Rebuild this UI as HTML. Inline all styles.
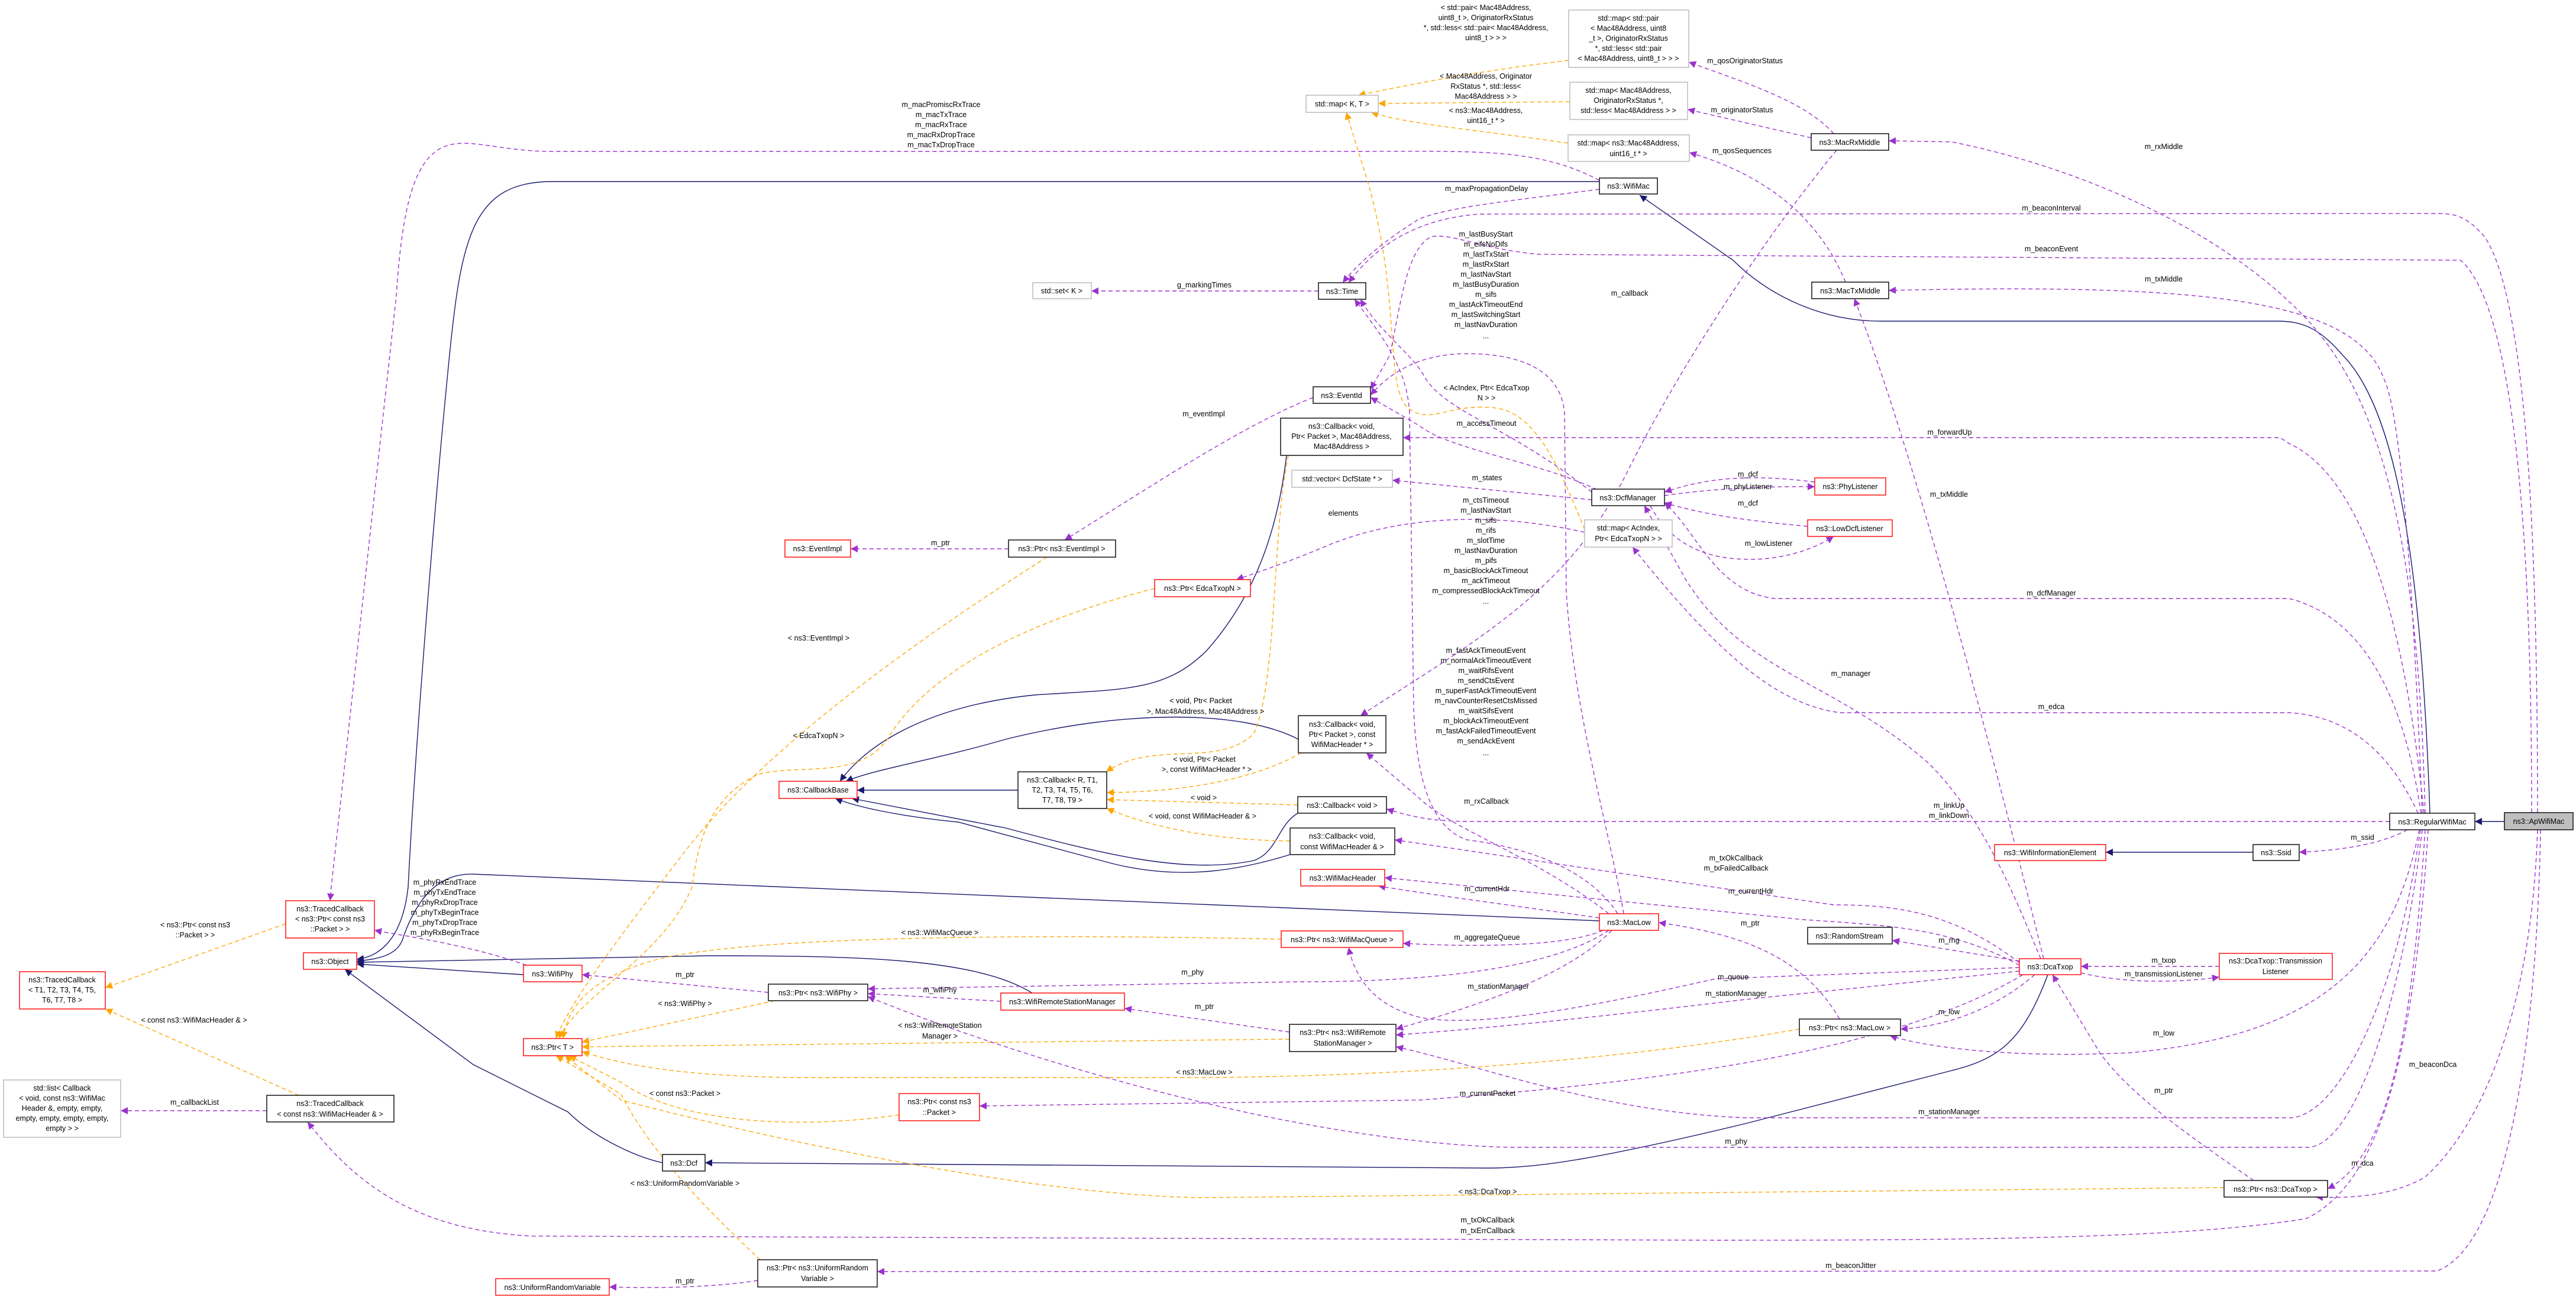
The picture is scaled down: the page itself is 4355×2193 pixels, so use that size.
<!DOCTYPE html>
<html><head><meta charset="utf-8"><style>
html,body{margin:0;padding:0;background:#fff;}
svg{display:block;font-family:"Liberation Sans",sans-serif;}
text{font-size:12.5px;fill:#000;text-anchor:middle;}
.r{fill:#fff;stroke:#ff2020;stroke-width:1.6;}
.k{fill:#fff;stroke:#202020;stroke-width:1.6;}
.g{fill:#fff;stroke:#c0c0c0;stroke-width:1.6;}
.n{fill:none;stroke:#191970;stroke-width:1.4;}
.p{fill:none;stroke:#9a32cd;stroke-width:1.4;stroke-dasharray:7,5;}
.o{fill:none;stroke:#ffa500;stroke-width:1.4;stroke-dasharray:7,5;}
</style></head><body>
<svg width="4355" height="2193" viewBox="0 0 4355 2193" xmlns="http://www.w3.org/2000/svg">
<defs>
<marker id="mp" viewBox="0 0 10 10" refX="10" refY="5" markerWidth="14" markerHeight="12" markerUnits="userSpaceOnUse" orient="auto"><path d="M0,0L10,5L0,10z" fill="#9a32cd"/></marker>
<marker id="mo" viewBox="0 0 10 10" refX="10" refY="5" markerWidth="14" markerHeight="12" markerUnits="userSpaceOnUse" orient="auto"><path d="M0,0L10,5L0,10z" fill="#ffa500"/></marker>
<marker id="mn" viewBox="0 0 10 10" refX="10" refY="5" markerWidth="14" markerHeight="12" markerUnits="userSpaceOnUse" orient="auto"><path d="M0,0L10,5L0,10z" fill="#191970"/></marker>
</defs>
<rect width="4355" height="2193" fill="#fff"/>

<!-- navy inheritance edges -->
<g marker-end="url(#mn)">
<path class="n" d="M4234,1389 L4184,1389"/>
<path class="n" d="M4108,1375 C4095,1000 4060,700 3960,600 C3920,553 3890,543 3850,543 L3180,543 C3080,543 2990,500 2930,440 L2772,330"/>
<path class="n" d="M3809,1441 L3560,1441"/>
<path class="n" d="M2704,307 L933,307 C800,307 780,400 760,600 C730,900 700,1300 690,1500 C680,1590 640,1618 603,1622"/>
<path class="n" d="M2704,1557 L800,1478 C720,1475 690,1560 680,1590 C670,1615 640,1622 603,1625"/>
<path class="n" d="M885,1648 L603,1630"/>
<path class="n" d="M1745,1679 C1650,1620 1450,1616 1200,1616 L603,1627"/>
<path class="n" d="M1120,1966 C1070,1955 1000,1920 960,1880 L800,1800 L583,1639"/>
<path class="n" d="M3462,1648 C3420,1760 3380,1790 3300,1810 L2950,1900 C2700,1960 2600,1975 2515,1975 L1192,1966"/>
<path class="n" d="M1721,1336 L1449,1336"/>
<path class="n" d="M2175,770 C2160,900 2120,1010 2040,1100 C1970,1170 1900,1165 1750,1175 C1600,1190 1480,1240 1420,1321"/>
<path class="n" d="M2195,1250 C2100,1200 1900,1200 1700,1250 C1580,1285 1480,1300 1430,1321"/>
<path class="n" d="M2194,1375 C2160,1395 2160,1440 2120,1455 C2000,1480 1850,1440 1700,1400 L1440,1350"/>
<path class="n" d="M2181,1445 C2100,1470 2000,1490 1880,1460 L1620,1390 C1520,1380 1450,1365 1412,1350"/>
</g>

<!-- orange template edges -->
<g marker-end="url(#mo)">
<path class="o" d="M2178,770 C2150,900 2160,1150 2120,1240 C2060,1300 1950,1250 1870,1305"/>
<path class="o" d="M2200,1273 C2100,1330 1950,1340 1871,1340"/>
<path class="o" d="M2194,1361 L1871,1352"/>
<path class="o" d="M2181,1422 C2050,1420 1950,1400 1871,1367"/>
<path class="o" d="M1770,942 C1600,1050 1300,1250 1150,1450 C1050,1580 960,1700 940,1756"/>
<path class="o" d="M1952,995 C1700,1060 1560,1150 1500,1250 C1450,1320 1350,1290 1280,1310 C1200,1350 1180,1420 1170,1500 C1120,1620 980,1680 945,1756"/>
<path class="o" d="M2166,1588 C1800,1580 1300,1580 1120,1620 C1000,1650 960,1700 952,1756"/>
<path class="o" d="M1310,1692 L984,1762"/>
<path class="o" d="M2180,1757 L984,1770"/>
<path class="o" d="M3042,1740 C2700,1800 2300,1822 2000,1822 L1350,1822 C1150,1820 1050,1800 984,1778"/>
<path class="o" d="M1520,1885 C1350,1910 1150,1900 1050,1830 L962,1785"/>
<path class="o" d="M1285,2130 C1200,2050 1100,1950 1050,1850 L940,1785"/>
<path class="o" d="M3760,2008 L2030,2025 C1700,2020 1200,1900 1050,1860 L955,1785"/>
<path class="o" d="M2652,102 C2500,120 2400,140 2296,161"/>
<path class="o" d="M2654,172 L2330,175"/>
<path class="o" d="M2651,242 C2500,220 2380,210 2318,190"/>
<path class="o" d="M2679,895 C2640,800 2600,700 2530,690 C2450,680 2420,720 2380,690 C2340,650 2370,500 2310,300 L2276,190"/>
<path class="o" d="M483,1562 L178,1670"/>
<path class="o" d="M505,1852 L178,1706"/>
</g>

<!-- purple member edges -->
<g marker-end="url(#mp)">
<path class="p" d="M2704,305 C2600,250 2500,256 2300,256 L933,256 C850,256 800,235 760,245 C700,260 680,350 670,500 L560,1500 L558,1523"/>
<path class="p" d="M2704,320 C2550,340 2450,350 2400,370 C2350,400 2300,440 2270,478"/>
<path class="p" d="M4290,1374 C4290,900 4270,500 4200,400 C4170,365 4150,361 4120,361 L2500,362 C2400,370 2330,410 2280,478"/>
<path class="p" d="M4280,1374 C4280,900 4250,520 4160,440 L2600,430 C2500,420 2460,395 2420,400 C2380,420 2370,500 2350,600 L2317,658"/>
<path class="p" d="M2220,672 C2100,720 1950,820 1800,913"/>
<path class="p" d="M1705,928 L1438,928"/>
<path class="p" d="M2229,492 L1845,492"/>
<path class="p" d="M2679,900 C2500,860 2350,880 2250,920 C2180,950 2120,970 2090,980"/>
<path class="p" d="M2691,845 L2354,812"/>
<path class="p" d="M2814,838 C2900,825 3000,822 3068,823"/>
<path class="p" d="M3068,815 C2950,800 2880,810 2814,832"/>
<path class="p" d="M3056,890 C2950,880 2880,870 2814,850"/>
<path class="p" d="M2790,855 C2830,930 2900,950 2980,945 C3040,940 3080,920 3100,907"/>
<path class="p" d="M3100,226 C3050,170 2950,140 2855,105"/>
<path class="p" d="M3062,233 L2853,185"/>
<path class="p" d="M3120,477 C3080,380 3000,300 2856,258"/>
<path class="p" d="M3105,254 C3000,380 2850,600 2750,800 C2650,1000 2500,1080 2300,1210"/>
<path class="p" d="M4100,1375 C4090,1000 4050,700 3900,540 C3750,380 3500,280 3300,240 L3193,238"/>
<path class="p" d="M4095,1375 C4080,1000 4060,700 4030,640 C3980,500 3700,480 3193,491"/>
<path class="p" d="M3455,1621 C3400,1400 3250,800 3135,505"/>
<path class="p" d="M4098,1375 C4060,1000 3980,800 3870,750 L3855,740 L2372,740"/>
<path class="p" d="M4093,1375 C4060,1150 3980,1040 3870,1012 L3000,1012 C2900,1000 2870,900 2814,850"/>
<path class="p" d="M4088,1375 C4030,1250 3950,1210 3870,1205 L3110,1205 C3000,1190 2900,1100 2760,925"/>
<path class="p" d="M3450,1621 C3400,1500 3350,1380 3260,1290 C3100,1150 2950,1140 2850,980 L2780,855"/>
<path class="p" d="M4040,1389 L2500,1389 C2430,1389 2400,1385 2344,1368"/>
<path class="p" d="M4070,1403 C4020,1430 3950,1438 3887,1441"/>
<path class="p" d="M4090,1403 C4050,1600 3950,1750 3600,1780 C3400,1790 3250,1770 3195,1751"/>
<path class="p" d="M4092,1403 C4050,1700 3950,1890 3870,1890 L2950,1890 C2700,1880 2500,1800 2360,1770"/>
<path class="p" d="M4095,1403 C4060,1700 3980,1940 3900,1940 L2550,1940 C2200,1930 1750,1800 1467,1685"/>
<path class="p" d="M4100,1403 C4080,1700 4050,1950 3935,2010"/>
<path class="p" d="M4105,1403 C4080,1800 4020,2000 3900,2060 C3700,2095 3300,2097 2900,2097 L900,2090 C700,2080 600,2000 520,1897"/>
<path class="p" d="M4290,1403 C4280,1700 4200,1900 4100,1990 C4050,2020 3980,2027 3915,2024"/>
<path class="p" d="M4295,1403 C4290,1700 4250,2100 4120,2149 L1483,2150"/>
<path class="p" d="M3752,1634 L3518,1634"/>
<path class="p" d="M3518,1645 C3600,1665 3700,1660 3752,1652"/>
<path class="p" d="M3414,1625 L3199,1590"/>
<path class="p" d="M3440,1648 C3380,1700 3300,1735 3213,1740"/>
<path class="p" d="M3810,1996 C3700,1920 3600,1850 3550,1780 L3470,1648"/>
<path class="p" d="M3110,1723 C3050,1620 2950,1580 2804,1560"/>
<path class="p" d="M3414,1628 C3300,1540 3200,1530 3100,1530 L2358,1420"/>
<path class="p" d="M3414,1632 C3300,1570 3200,1565 3050,1555 L2341,1484"/>
<path class="p" d="M3414,1636 L2900,1655 C2700,1700 2500,1740 2400,1720 C2320,1700 2290,1650 2280,1602"/>
<path class="p" d="M3414,1642 L2950,1690 C2700,1720 2500,1740 2360,1750"/>
<path class="p" d="M3420,1648 C3200,1780 2800,1830 2400,1860 L1656,1870"/>
<path class="p" d="M2720,1545 C2600,1450 2450,1400 2400,1350 L2310,1273"/>
<path class="p" d="M2704,1552 C2550,1530 2400,1510 2330,1498"/>
<path class="p" d="M2710,1573 C2650,1600 2500,1602 2372,1595"/>
<path class="p" d="M2720,1573 C2650,1620 2500,1660 2200,1660 L1467,1672"/>
<path class="p" d="M2725,1573 C2650,1650 2500,1700 2360,1740"/>
<path class="p" d="M2745,1545 C2720,1400 2660,1200 2648,1000 L2645,700 C2640,620 2560,598 2480,598 C2400,598 2350,630 2317,668"/>
<path class="p" d="M2735,1545 C2680,1460 2560,1430 2480,1420 C2420,1400 2395,1320 2390,1200 L2383,700 C2380,620 2330,560 2290,506"/>
<path class="p" d="M2700,828 C2600,780 2450,760 2400,720 L2317,672"/>
<path class="p" d="M2691,832 C2550,720 2450,700 2410,640 C2390,600 2330,560 2300,506"/>
<path class="p" d="M890,1632 C800,1600 700,1585 633,1573"/>
<path class="p" d="M1299,1678 L984,1648"/>
<path class="p" d="M1692,1693 L1467,1680"/>
<path class="p" d="M2180,1745 L1901,1705"/>
<path class="p" d="M1281,2165 C1200,2178 1100,2178 1030,2176"/>
<path class="p" d="M451,1878 L204,1878"/>
</g>

<!-- nodes -->
<g>
<rect x="4234" y="1374" width="116" height="29" fill="#bfbfbf" stroke="#202020" stroke-width="1.6"/><text x="4292" y="1393">ns3::ApWifiMac</text>
<rect class="k" x="4040" y="1375" width="144" height="28"/><text x="4112" y="1394">ns3::RegularWifiMac</text>
<rect class="k" x="3809" y="1428" width="78" height="27"/><text x="3848" y="1446">ns3::Ssid</text>
<rect class="r" x="3372" y="1428" width="188" height="27"/><text x="3466" y="1446">ns3::WifiInformationElement</text>
<rect class="r" x="3752" y="1612" width="191" height="44"/><text x="3847" y="1629">ns3::DcaTxop::Transmission</text><text x="3847" y="1647">Listener</text>
<rect class="r" x="3414" y="1621" width="104" height="27"/><text x="3466" y="1639">ns3::DcaTxop</text>
<rect class="k" x="3056" y="1568" width="143" height="28"/><text x="3127" y="1587">ns3::RandomStream</text>
<rect class="k" x="3042" y="1723" width="171" height="28"/><text x="3127" y="1742">ns3::Ptr&lt; ns3::MacLow &gt;</text>
<rect class="k" x="3760" y="1996" width="175" height="28"/><text x="3847" y="2015">ns3::Ptr&lt; ns3::DcaTxop &gt;</text>
<rect class="r" x="2704" y="1545" width="100" height="28"/><text x="2754" y="1564">ns3::MacLow</text>
<rect class="r" x="2199" y="1470" width="142" height="28"/><text x="2270" y="1489">ns3::WifiMacHeader</text>
<rect class="k" x="2181" y="1400" width="177" height="45"/><text x="2269" y="1418">ns3::Callback&lt; void,</text><text x="2269" y="1436">const WifiMacHeader &amp; &gt;</text>
<rect class="k" x="2194" y="1347" width="150" height="28"/><text x="2269" y="1366">ns3::Callback&lt; void &gt;</text>
<rect class="k" x="2195" y="1210" width="148" height="63"/><text x="2269" y="1229">ns3::Callback&lt; void,</text><text x="2269" y="1246">Ptr&lt; Packet &gt;, const</text><text x="2269" y="1263">WifiMacHeader * &gt;</text>
<rect class="k" x="1721" y="1305" width="150" height="62"/><text x="1796" y="1323">ns3::Callback&lt; R, T1,</text><text x="1796" y="1340">T2, T3, T4, T5, T6,</text><text x="1796" y="1357">T7, T8, T9 &gt;</text>
<rect class="r" x="1317" y="1321" width="132" height="29"/><text x="1383" y="1340">ns3::CallbackBase</text>
<rect class="r" x="1952" y="980" width="162" height="29"/><text x="2033" y="999">ns3::Ptr&lt; EdcaTxopN &gt;</text>
<rect class="k" x="1705" y="913" width="181" height="29"/><text x="1795" y="932">ns3::Ptr&lt; ns3::EventImpl &gt;</text>
<rect class="r" x="1327" y="913" width="111" height="29"/><text x="1382" y="932">ns3::EventImpl</text>
<rect class="k" x="2165" y="707" width="207" height="63"/><text x="2268" y="725">ns3::Callback&lt; void,</text><text x="2268" y="742">Ptr&lt; Packet &gt;, Mac48Address,</text><text x="2268" y="759">Mac48Address &gt;</text>
<rect class="k" x="2220" y="654" width="97" height="28"/><text x="2268" y="673">ns3::EventId</text>
<rect class="k" x="2229" y="478" width="80" height="28"/><text x="2269" y="497">ns3::Time</text>
<rect class="g" x="1746" y="478" width="99" height="27"/><text x="1795" y="496">std::set&lt; K &gt;</text>
<rect class="k" x="2704" y="301" width="98" height="27"/><text x="2753" y="319">ns3::WifiMac</text>
<rect class="g" x="2208" y="161" width="122" height="29"/><text x="2269" y="180">std::map&lt; K, T &gt;</text>
<rect class="g" x="2651" y="228" width="205" height="45"/><text x="2753" y="246">std::map&lt; ns3::Mac48Address,</text><text x="2753" y="264">uint16_t * &gt;</text>
<rect class="g" x="2654" y="139" width="199" height="63"/><text x="2753" y="157">std::map&lt; Mac48Address,</text><text x="2753" y="174">OriginatorRxStatus *,</text><text x="2753" y="191">std::less&lt; Mac48Address &gt; &gt;</text>
<rect class="g" x="2652" y="17" width="203" height="97"/><text x="2753" y="35">std::map&lt; std::pair</text><text x="2753" y="52">&lt; Mac48Address, uint8</text><text x="2753" y="69">_t &gt;, OriginatorRxStatus</text><text x="2753" y="86">*, std::less&lt; std::pair</text><text x="2753" y="103">&lt; Mac48Address, uint8_t &gt; &gt; &gt;</text>
<rect class="k" x="3062" y="226" width="131" height="28"/><text x="3127" y="245">ns3::MacRxMiddle</text>
<rect class="k" x="3063" y="477" width="130" height="28"/><text x="3128" y="496">ns3::MacTxMiddle</text>
<rect class="k" x="2691" y="827" width="123" height="28"/><text x="2752" y="846">ns3::DcfManager</text>
<rect class="r" x="3068" y="808" width="120" height="29"/><text x="3128" y="827">ns3::PhyListener</text>
<rect class="r" x="3056" y="879" width="143" height="28"/><text x="3127" y="898">ns3::LowDcfListener</text>
<rect class="g" x="2184" y="795" width="170" height="29"/><text x="2269" y="814">std::vector&lt; DcfState * &gt;</text>
<rect class="g" x="2679" y="879" width="148" height="46"/><text x="2753" y="897">std::map&lt; AcIndex,</text><text x="2753" y="915">Ptr&lt; EdcaTxopN &gt; &gt;</text>
<rect class="r" x="1692" y="1679" width="209" height="29"/><text x="1796" y="1698">ns3::WifiRemoteStationManager</text>
<rect class="r" x="2166" y="1574" width="206" height="28"/><text x="2269" y="1593">ns3::Ptr&lt; ns3::WifiMacQueue &gt;</text>
<rect class="r" x="885" y="1632" width="99" height="28"/><text x="934" y="1651">ns3::WifiPhy</text>
<rect class="k" x="1299" y="1664" width="168" height="28"/><text x="1383" y="1683">ns3::Ptr&lt; ns3::WifiPhy &gt;</text>
<rect class="k" x="2180" y="1732" width="180" height="46"/><text x="2270" y="1750">ns3::Ptr&lt; ns3::WifiRemote</text><text x="2270" y="1768">StationManager &gt;</text>
<rect class="r" x="885" y="1756" width="99" height="29"/><text x="934" y="1775">ns3::Ptr&lt; T &gt;</text>
<rect class="r" x="1520" y="1849" width="136" height="46"/><text x="1588" y="1867">ns3::Ptr&lt; const ns3</text><text x="1588" y="1885">::Packet &gt;</text>
<rect class="r" x="513" y="1611" width="90" height="28"/><text x="558" y="1630">ns3::Object</text>
<rect class="r" x="483" y="1523" width="150" height="63"/><text x="558" y="1541">ns3::TracedCallback</text><text x="558" y="1558">&lt; ns3::Ptr&lt; const ns3</text><text x="558" y="1575">::Packet &gt; &gt;</text>
<rect class="r" x="33" y="1643" width="145" height="63"/><text x="105" y="1661">ns3::TracedCallback</text><text x="105" y="1678">&lt; T1, T2, T3, T4, T5,</text><text x="105" y="1695">T6, T7, T8 &gt;</text>
<rect class="k" x="451" y="1852" width="215" height="45"/><text x="558" y="1870">ns3::TracedCallback</text><text x="558" y="1888">&lt; const ns3::WifiMacHeader &amp; &gt;</text>
<rect class="g" x="6" y="1826" width="198" height="97"/><text x="105" y="1844">std::list&lt; Callback</text><text x="105" y="1861">&lt; void, const ns3::WifiMac</text><text x="105" y="1878">Header &amp;, empty, empty,</text><text x="105" y="1895">empty, empty, empty, empty,</text><text x="105" y="1912">empty &gt; &gt;</text>
<rect class="k" x="1120" y="1952" width="72" height="28"/><text x="1156" y="1971">ns3::Dcf</text>
<rect class="k" x="1281" y="2130" width="202" height="46"/><text x="1382" y="2148">ns3::Ptr&lt; ns3::UniformRandom</text><text x="1382" y="2166">Variable &gt;</text>
<rect class="r" x="838" y="2162" width="192" height="28"/><text x="934" y="2181">ns3::UniformRandomVariable</text>
</g>

<!-- edge labels -->
<g>
<text x="2512" y="17">&lt; std::pair&lt; Mac48Address,</text>
<text x="2512" y="34">uint8_t &gt;, OriginatorRxStatus</text>
<text x="2512" y="51">*, std::less&lt; std::pair&lt; Mac48Address,</text>
<text x="2512" y="68">uint8_t &gt; &gt; &gt;</text>
<text x="2512" y="133">&lt; Mac48Address, Originator</text>
<text x="2512" y="150">RxStatus *, std::less&lt;</text>
<text x="2512" y="167">Mac48Address &gt; &gt;</text>
<text x="2512" y="191">&lt; ns3::Mac48Address,</text>
<text x="2512" y="208">uint16_t * &gt;</text>
<text x="2950" y="107">m_qosOriginatorStatus</text>
<text x="2945" y="190">m_originatorStatus</text>
<text x="2945" y="259">m_qosSequences</text>
<text x="1591" y="181">m_macPromiscRxTrace</text>
<text x="1591" y="198">m_macTxTrace</text>
<text x="1591" y="215">m_macRxTrace</text>
<text x="1591" y="232">m_macRxDropTrace</text>
<text x="1591" y="249">m_macTxDropTrace</text>
<text x="2513" y="323">m_maxPropagationDelay</text>
<text x="3658" y="252">m_rxMiddle</text>
<text x="3468" y="356">m_beaconInterval</text>
<text x="3468" y="425">m_beaconEvent</text>
<text x="3658" y="476">m_txMiddle</text>
<text x="2036" y="486">g_markingTimes</text>
<text x="2755" y="500">m_callback</text>
<text x="2512" y="400">m_lastBusyStart</text>
<text x="2512" y="417">m_eifsNoDifs</text>
<text x="2512" y="434">m_lastTxStart</text>
<text x="2512" y="451">m_lastRxStart</text>
<text x="2512" y="468">m_lastNavStart</text>
<text x="2512" y="485">m_lastBusyDuration</text>
<text x="2512" y="502">m_sifs</text>
<text x="2512" y="519">m_lastAckTimeoutEnd</text>
<text x="2512" y="536">m_lastSwitchingStart</text>
<text x="2512" y="553">m_lastNavDuration</text>
<text x="2512" y="572">...</text>
<text x="2513" y="660">&lt; AcIndex, Ptr&lt; EdcaTxop</text>
<text x="2513" y="677">N &gt; &gt;</text>
<text x="2035" y="704">m_eventImpl</text>
<text x="2513" y="720">m_accessTimeout</text>
<text x="3296" y="735">m_forwardUp</text>
<text x="2955" y="806">m_dcf</text>
<text x="2514" y="812">m_states</text>
<text x="2955" y="827">m_phyListener</text>
<text x="3295" y="840">m_txMiddle</text>
<text x="2955" y="855">m_dcf</text>
<text x="2271" y="872">elements</text>
<text x="2990" y="923">m_lowListener</text>
<text x="2512" y="850">m_ctsTimeout</text>
<text x="2512" y="867">m_lastNavStart</text>
<text x="2512" y="884">m_sifs</text>
<text x="2512" y="901">m_rifs</text>
<text x="2512" y="918">m_slotTime</text>
<text x="2512" y="935">m_lastNavDuration</text>
<text x="2512" y="952">m_pifs</text>
<text x="2512" y="969">m_basicBlockAckTimeout</text>
<text x="2512" y="986">m_ackTimeout</text>
<text x="2512" y="1003">m_compressedBlockAckTimeout</text>
<text x="2512" y="1021">...</text>
<text x="1590" y="922">m_ptr</text>
<text x="3468" y="1007">m_dcfManager</text>
<text x="1384" y="1083">&lt; ns3::EventImpl &gt;</text>
<text x="2512" y="1104">m_fastAckTimeoutEvent</text>
<text x="2512" y="1121">m_normalAckTimeoutEvent</text>
<text x="2512" y="1138">m_waitRifsEvent</text>
<text x="2512" y="1155">m_sendCtsEvent</text>
<text x="2512" y="1172">m_superFastAckTimeoutEvent</text>
<text x="2512" y="1189">m_navCounterResetCtsMissed</text>
<text x="2512" y="1206">m_waitSifsEvent</text>
<text x="2512" y="1223">m_blockAckTimeoutEvent</text>
<text x="2512" y="1240">m_fastAckFailedTimeoutEvent</text>
<text x="2512" y="1257">m_sendAckEvent</text>
<text x="2512" y="1277">...</text>
<text x="3129" y="1143">m_manager</text>
<text x="3468" y="1199">m_edca</text>
<text x="2030" y="1189">&lt; void, Ptr&lt; Packet</text>
<text x="2038" y="1207">&gt;, Mac48Address, Mac48Address &gt;</text>
<text x="1384" y="1248">&lt; EdcaTxopN &gt;</text>
<text x="2036" y="1288">&lt; void, Ptr&lt; Packet</text>
<text x="2040" y="1305">&gt;, const WifiMacHeader * &gt;</text>
<text x="2035" y="1353">&lt; void &gt;</text>
<text x="2033" y="1384">&lt; void, const WifiMacHeader &amp; &gt;</text>
<text x="2513" y="1359">m_rxCallback</text>
<text x="3295" y="1366">m_linkUp</text>
<text x="3295" y="1383">m_linkDown</text>
<text x="3994" y="1420">m_ssid</text>
<text x="2935" y="1455">m_txOkCallback</text>
<text x="2935" y="1472">m_txFailedCallback</text>
<text x="752" y="1496">m_phyRxEndTrace</text>
<text x="752" y="1513">m_phyTxEndTrace</text>
<text x="752" y="1530">m_phyRxDropTrace</text>
<text x="752" y="1547">m_phyTxBeginTrace</text>
<text x="752" y="1564">m_phyTxDropTrace</text>
<text x="752" y="1581">m_phyRxBeginTrace</text>
<text x="2514" y="1507">m_currentHdr</text>
<text x="2960" y="1511">m_currentHdr</text>
<text x="2959" y="1565">m_ptr</text>
<text x="330" y="1568">&lt; ns3::Ptr&lt; const ns3</text>
<text x="330" y="1585">::Packet &gt; &gt;</text>
<text x="1589" y="1581">&lt; ns3::WifiMacQueue &gt;</text>
<text x="2514" y="1589">m_aggregateQueue</text>
<text x="3295" y="1594">m_rng</text>
<text x="3658" y="1628">m_txop</text>
<text x="3658" y="1651">m_transmissionListener</text>
<text x="2016" y="1648">m_phy</text>
<text x="1158" y="1652">m_ptr</text>
<text x="2930" y="1656">m_queue</text>
<text x="2533" y="1672">m_stationManager</text>
<text x="1589" y="1678">m_wifiPhy</text>
<text x="2935" y="1684">m_stationManager</text>
<text x="1158" y="1701">&lt; ns3::WifiPhy &gt;</text>
<text x="2036" y="1706">m_ptr</text>
<text x="3295" y="1715">m_low</text>
<text x="328" y="1729">&lt; const ns3::WifiMacHeader &amp; &gt;</text>
<text x="1589" y="1738">&lt; ns3::WifiRemoteStation</text>
<text x="1589" y="1756">Manager &gt;</text>
<text x="3658" y="1751">m_low</text>
<text x="4113" y="1804">m_beaconDca</text>
<text x="2036" y="1817">&lt; ns3::MacLow &gt;</text>
<text x="3658" y="1848">m_ptr</text>
<text x="1158" y="1853">&lt; const ns3::Packet &gt;</text>
<text x="2515" y="1853">m_currentPacket</text>
<text x="329" y="1868">m_callbackList</text>
<text x="3295" y="1884">m_stationManager</text>
<text x="2935" y="1934">m_phy</text>
<text x="3994" y="1971">m_dca</text>
<text x="1158" y="2005">&lt; ns3::UniformRandomVariable &gt;</text>
<text x="2515" y="2019">&lt; ns3::DcaTxop &gt;</text>
<text x="2515" y="2067">m_txOkCallback</text>
<text x="2515" y="2085">m_txErrCallback</text>
<text x="3129" y="2144">m_beaconJitter</text>
<text x="1158" y="2170">m_ptr</text>
</g>
</svg>
</body></html>
